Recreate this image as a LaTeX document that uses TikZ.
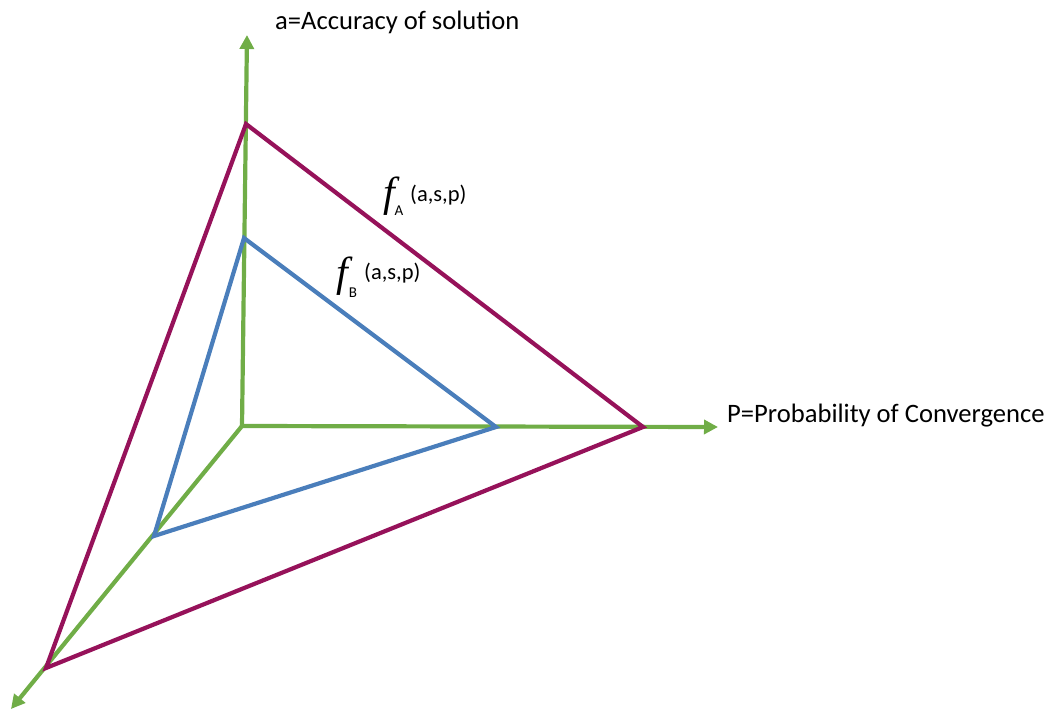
\documentclass[tikz,border=0pt]{standalone}
\usepackage{fontspec}
\setmainfont{Carlito}
\newfontfamily\mathf{Liberation Serif}
\usetikzlibrary{arrows.meta}
\definecolor{axgreen}{RGB}{112,173,71}
\definecolor{tblue}{RGB}{74,126,187}
\definecolor{tmag}{RGB}{150,18,90}
\tikzset{
  axis/.style={draw=axgreen,line width=4.2pt,-{Triangle[length=14pt,width=14pt]}},
  edgeA/.style={draw=tmag,line width=4.2pt,line join=miter},
  edgeB/.style={draw=tblue,line width=4.2pt,line join=miter},
  lab/.style={inner sep=0pt,font=\fontsize{26.6}{30}\selectfont,anchor=west},
  args/.style={inner sep=0pt,font=\fontsize{22.5}{26}\selectfont,anchor=west},
  subl/.style={inner sep=0pt,font=\fontsize{15}{17}\selectfont},
  fsym/.style={inner sep=0pt,font=\mathf\itshape\fontsize{42}{46}\selectfont}
}
\begin{document}
\begin{tikzpicture}[x=1pt,y=-1pt]
\useasboundingbox (0,0) rectangle (1058,712);
\coordinate (O) at (242,426);
\coordinate (atip) at (247,35);
\coordinate (ptip) at (718,427);
\coordinate (stip) at (11,709);
\coordinate (A1) at (246,124);
\coordinate (A2) at (643,427);
\coordinate (A3) at (46,668);
\coordinate (B1) at (244,238);
\coordinate (B2) at (496,427);
\coordinate (B3) at (154,536);
\draw[axis] (O) -- (atip);
\draw[axis] (O) -- (ptip);
\draw[axis] (O) -- (stip);
\draw[edgeA] (A3) -- (A1) -- (A2) -- cycle;
\draw[edgeB] (B3) -- (B1) -- (B2) -- cycle;
\node[lab] (alab) at (275,22) {a=Accuracy of solution};
\node[lab] (plab) at (727,416) {P=Probability of Convergence};
\node[fsym] (fA) at (389,196) {f};
\node[subl] (subA) at (399,211) {A};
\node[args] (argA) at (410,195) {(a,s,p)};
\node[fsym] (fB) at (342,276) {f};
\node[subl] (subB) at (353,293) {B};
\node[args] (argB) at (364,273) {(a,s,p)};
\end{tikzpicture}
\end{document}
